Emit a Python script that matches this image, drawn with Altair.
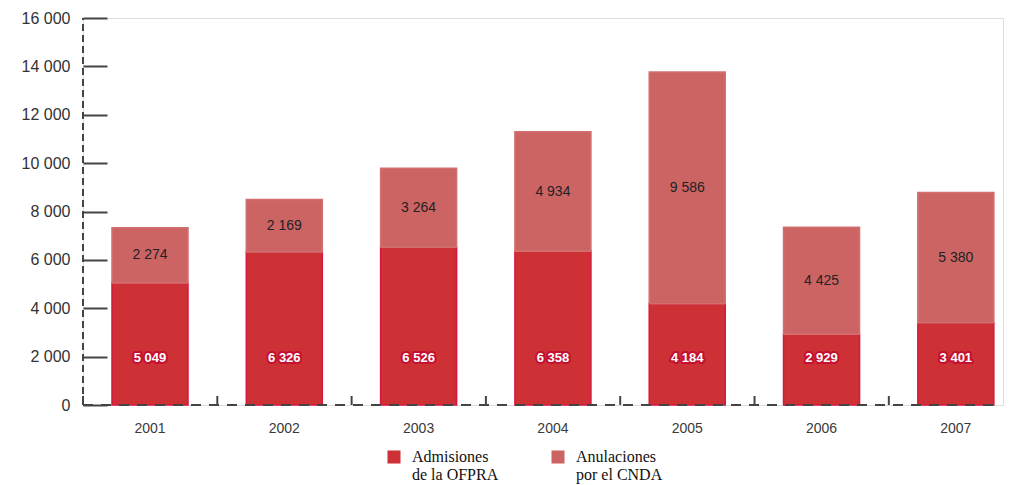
import altair as alt
import pandas as pd

years = ["2001", "2002", "2003", "2004", "2005", "2006", "2007"]
admisiones = [5049, 6326, 6526, 6358, 4184, 2929, 3401]
anulaciones = [2274, 2169, 3264, 4934, 9586, 4425, 5380]
series = ["Admisiones de la OFPRA", "Anulaciones por el CNDA"]
y_ticks = [0, 2000, 4000, 6000, 8000, 10000, 12000, 14000, 16000]

def fmt(v):
    return f"{v:,}".replace(",", " ")

rows = []
for y, a, n in zip(years, admisiones, anulaciones):
    rows.append({"year": y, "serie": series[0], "value": a, "order": 0})
    rows.append({"year": y, "serie": series[1], "value": n, "order": 1})
df = pd.DataFrame(rows)

lab = pd.DataFrame({
    "year": years,
    "adm_label": [fmt(v) for v in admisiones],
    "anu_label": [fmt(v) for v in anulaciones],
    "anu_mid": [a + n / 2 for a, n in zip(admisiones, anulaciones)],
    "adm_pos": [1950] * len(years),
    "zero": [0] * len(years),
})

W, H = 920, 387
xscale = alt.Scale(domain=years, paddingInner=0.434, paddingOuter=0.142, align=0.76)
yscale = alt.Scale(domain=[0, 16000], nice=False)

x_enc = alt.X("year:N", scale=xscale, title=None,
              axis=alt.Axis(domain=False, ticks=False, labelAngle=0, labelPadding=16,
                            labelFontSize=14, labelColor="#3a3a3a",
                            labelFont="Liberation Sans"))
y_enc = alt.Y("value:Q", stack="zero", scale=yscale, title=None,
              axis=alt.Axis(values=y_ticks, domain=False, grid=False, tickSize=24,
                            tickWidth=2, tickColor="#444", offset=-24, labelPadding=13,
                            labelFontSize=16, labelColor="#333", labelFont="Liberation Sans",
                            labelExpr="replace(format(datum.value, ','), ',', ' ')"))

bars = alt.Chart(df).mark_bar(strokeWidth=1.5).encode(
    x=x_enc,
    y=y_enc,
    color=alt.Color("serie:N", scale=alt.Scale(domain=series, range=["#cd3035", "#cc6464"]),
                    title=None,
                    legend=alt.Legend(orient="none", legendX=303, legendY=431,
                                      direction="horizontal", symbolType="square",
                                      symbolSize=170, symbolStrokeWidth=0,
                                      labelFont="Liberation Serif", labelFontSize=16,
                                      labelColor="#111", labelOffset=10, columnPadding=51,
                                      labelLimit=300,
                                      labelExpr="datum.label == 'Admisiones de la OFPRA' ? ['Admisiones', 'de la OFPRA'] : ['Anulaciones', 'por el CNDA']")),
    stroke=alt.Stroke("serie:N", scale=alt.Scale(domain=series, range=["#d8173f", "#d27070"]),
                      legend=None),
    order=alt.Order("order:Q"),
)

top_text = alt.Chart(lab).mark_text(fontSize=14, color="#222", font="Liberation Sans").encode(
    x=alt.X("year:N", scale=xscale),
    y=alt.Y("anu_mid:Q", scale=yscale),
    text="anu_label:N",
)
bot_halo = alt.Chart(lab).mark_text(fontSize=13, color="#c40f30", stroke="#c40f30",
                                    strokeWidth=4, strokeJoin="round", fontWeight="bold",
                                    font="Liberation Sans").encode(
    x=alt.X("year:N", scale=xscale),
    y=alt.Y("adm_pos:Q", scale=yscale),
    text="adm_label:N",
)
bot_text = alt.Chart(lab).mark_text(fontSize=13, color="white", fontWeight="bold",
                                    font="Liberation Sans").encode(
    x=alt.X("year:N", scale=xscale),
    y=alt.Y("adm_pos:Q", scale=yscale),
    text="adm_label:N",
)

x_ticks = alt.Chart(lab).mark_rule(color="#444", strokeWidth=2).encode(
    x=alt.X("year:N", scale=xscale, bandPosition=0),
    xOffset=alt.value(-29),
    y=alt.value(H - 9),
    y2=alt.value(H),
)

y_domain = alt.Chart(pd.DataFrame({"a": [0], "b": [16000]})).mark_rule(
    color="#444", strokeWidth=2, strokeDash=[7, 4]).encode(
    x=alt.value(0), y=alt.Y("a:Q", scale=yscale), y2="b:Q")
x_domain = alt.Chart(pd.DataFrame({"a": [0]})).mark_rule(
    color="#444", strokeWidth=2, strokeDash=[10, 8]).encode(
    y=alt.Y("a:Q", scale=yscale), x=alt.value(0), x2=alt.value(917))

chart = alt.layer(bars, top_text, bot_halo, bot_text, x_ticks, y_domain, x_domain).properties(
    width=W, height=H,
    autosize=alt.AutoSizeParams(type="none"),
    padding={"left": 83, "top": 18, "right": 12, "bottom": 80},
).configure_view(stroke=None).configure(background="white")

chart.save("out.html", embed_options={"renderer": "svg", "actions": False})
